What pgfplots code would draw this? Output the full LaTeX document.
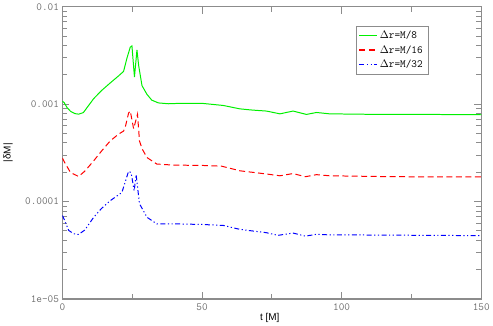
\documentclass[border=0pt]{standalone}
\usepackage{fontspec}
\setsansfont{Liberation Sans}
\usepackage{pgfplots}
\pgfplotsset{compat=1.18}
\definecolor{axgray}{HTML}{8C8C8C}
\definecolor{txgray}{HTML}{6E6E6E}
\definecolor{cgreen}{HTML}{00F000}
\definecolor{cred}{HTML}{FF0000}
\definecolor{cblue}{HTML}{0000FF}

\begin{document}
\begin{tikzpicture}
\begin{axis}[
  scale only axis, width=420bp, height=293bp,
  xmin=0, xmax=150, ymode=log, ymin=1e-5, ymax=1e-2,
  axis line style={axgray, line width=1.3pt},
  every tick/.style={axgray, line width=0.9pt},
  major tick length=7bp, minor tick length=5bp,
  xtick={0,50,100,150}, xticklabels={0,50,100,150},
  minor xtick={25,75,125},
  ytick={1e-5,1e-4,1e-3,1e-2}, yticklabels={1e-05,0.0001,0.001,0.01},
  minor ytick={2e-5,3e-5,4e-5,5e-5,6e-5,7e-5,8e-5,9e-5,2e-4,3e-4,4e-4,5e-4,6e-4,7e-4,8e-4,9e-4,2e-3,3e-3,4e-3,5e-3,6e-3,7e-3,8e-3,9e-3},
  tick label style={txgray, font=\ttfamily\fontsize{11}{13}\selectfont},
  xticklabel style={yshift=-1bp},
  xlabel={\sffamily t [M]}, ylabel={\sffamily |δM|},
  label style={font=\fontsize{10}{12}\selectfont},
  xlabel style={at={(axis description cs:0.495,-0.065)}, anchor=center},
  ylabel style={at={(axis description cs:-0.13,0.5)}, anchor=center},
  legend style={at={(0.70,0.935)}, anchor=north west, draw=axgray,
    font=\ttfamily\fontsize{11}{12}\selectfont, inner sep=3pt, row sep=1.5pt},
  legend cell align=left,
  legend image code/.code={\draw[#1] (0bp,0bp) -- (18bp,0bp);},
]
\addlegendimage{cgreen, line width=1.2pt}
\addlegendentry{$\Delta$r=M/8}
\addlegendimage{cred, line width=1.2pt, dash pattern=on 6bp off 3.5bp}
\addlegendentry{$\Delta$r=M/16}
\addlegendimage{cblue, line width=1.2pt, dash pattern=on 5bp off 2.5bp on 1.2bp off 2.5bp on 1.2bp off 2.5bp}
\addlegendentry{$\Delta$r=M/32}
\addplot[color=cgreen, line width=1pt, forget plot] coordinates {
(0,0.00107) (0.6,0.00104) (1.7,0.00092) (3,0.00084) (4.5,0.0008) (5.8,0.00079) (7.5,0.00082)
(9.5,0.00098) (11.2,0.00114) (14,0.00138) (17.1,0.00165) (20,0.00194) (21.9,0.00217)
(23.1,0.00296) (24.3,0.00385) (24.9,0.00397) (25.8,0.0019) (26.7,0.00361) (27.3,0.0025)
(28.5,0.00155) (30.3,0.00126) (32,0.0011) (34.4,0.00103) (38,0.00101) (42,0.00102)
(50,0.00102) (57.6,0.00097) (63.6,0.000895) (68,0.00087) (73.1,0.00085) (77.9,0.000796)
(82.6,0.00085) (87.4,0.000785) (91,0.000822) (95.7,0.000796) (113.6,0.000785)
(131.4,0.000785) (150,0.000779)};
\addplot[color=cred, line width=1pt, dash pattern=on 6bp off 3.5bp, forget plot] coordinates {
(0,0.00028) (0.8,0.000252) (2.9,0.000199) (5.8,0.000181) (8,0.000205) (11.2,0.000262)
(14,0.00033) (17.1,0.000419) (20,0.00049) (21.9,0.00053) (22.5,0.00058) (23.7,0.00081)
(24.3,0.00085) (25.5,0.00056) (26.9,0.00079) (27.6,0.00042) (28.5,0.00035) (30.3,0.000283)
(33.8,0.000243) (39.6,0.000237) (50,0.000235) (57,0.000231) (63.6,0.000207) (73.1,0.000192)
(77.9,0.000184) (82.6,0.000194) (87,0.00018) (91,0.000189) (95.7,0.000184) (119,0.00018)
(150,0.000179)};
\addplot[color=cblue, line width=1pt, dash pattern=on 5bp off 2.5bp on 1.2bp off 2.5bp on 1.2bp off 2.5bp, forget plot] coordinates {
(0,0.000072) (0.8,0.000064) (2.25,0.0000506) (4,0.0000468) (5.8,0.000046) (8,0.000051)
(11.2,0.000069) (14,0.000085) (17.1,0.000102) (21.3,0.000124) (23.7,0.000205) (24.6,0.000198)
(25.7,0.000129) (26.4,0.000189) (27.6,0.000095) (30.3,0.000069) (33.8,0.000059) (41,0.000059)
(50,0.0000582) (57.6,0.0000569) (63.6,0.0000518) (73.1,0.0000479) (77.2,0.000045)
(82.6,0.0000475) (87,0.0000442) (91,0.0000461) (95,0.0000456) (150,0.0000447)};
\end{axis}
\end{tikzpicture}
\end{document}
